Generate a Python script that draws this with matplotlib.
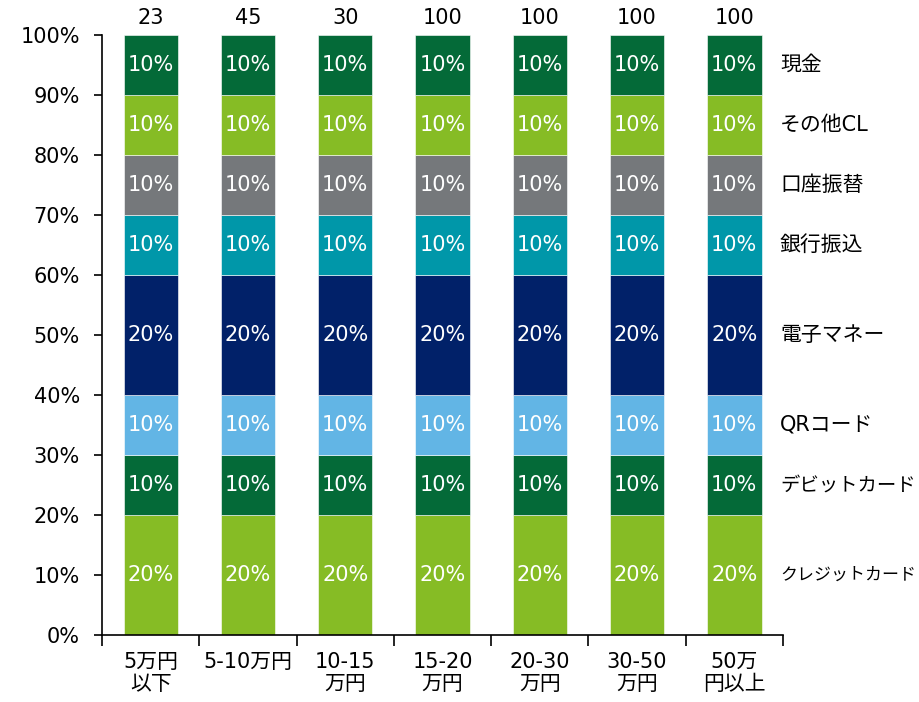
import numpy as np
import matplotlib
matplotlib.use('Agg')
import matplotlib.pyplot as plt
from matplotlib.ticker import PercentFormatter

plt.rcParams['font.family'] = ['DejaVu Sans', 'Noto Sans CJK JP']

categories = ['5万円\n以下', '5-10万円', '10-15\n万円', '15-20\n万円', '20-30\n万円', '30-50\n万円', '50万\n円以上']
counts = [23, 45, 30, 100, 100, 100, 100]

# bottom to top
series = ['クレジットカード', 'デビットカード', 'QRコード', '電子マネー', '銀行振込', '口座振替', 'その他CL', '現金']
credit = [20, 20, 20, 20, 20, 20, 20]
debit = [10, 10, 10, 10, 10, 10, 10]
qr = [10, 10, 10, 10, 10, 10, 10]
emoney = [20, 20, 20, 20, 20, 20, 20]
bank = [10, 10, 10, 10, 10, 10, 10]
direct = [10, 10, 10, 10, 10, 10, 10]
other_cl = [10, 10, 10, 10, 10, 10, 10]
cash = [10, 10, 10, 10, 10, 10, 10]
values = [credit, debit, qr, emoney, bank, direct, other_cl, cash]
colors = ['#86BC25', '#046A38', '#62B5E5', '#012169', '#0097A9', '#75787B', '#86BC25', '#046A38']

fig = plt.figure(figsize=(9.2, 7.02), dpi=100)
ax = fig.add_axes([0.111, 0.0954, 0.74, 0.855])
renderer = fig.canvas.get_renderer()

x = np.arange(len(categories))
bottom = np.zeros(len(categories))
for name, vals, c in zip(series, values, colors):
    vals = np.array(vals, dtype=float)
    ax.bar(x, vals, 0.56, bottom=bottom, color=c, edgecolor='white', linewidth=0.4)
    for xi, b, v in zip(x, bottom, vals):
        ax.text(xi, b + v / 2, f'{v:.0f}%', ha='center', va='center', color='white', fontsize=15)
    # series label to the right of last bar, shrunk to fit the margin
    t = ax.text(len(categories) - 0.53, bottom[-1] + vals[-1] / 2, name,
                ha='left', va='center', fontsize=15, clip_on=False)
    w = t.get_window_extent(renderer).width
    if w > 136:
        t.set_fontsize(15 * 136 / w)
    bottom += vals

for xi, n in zip(x, counts):
    ax.text(xi, 101.2, str(n), ha='center', va='bottom', fontsize=15)

ax.set_xlim(-0.5, len(categories) - 0.5)
ax.set_ylim(0, 100)
ax.yaxis.set_major_formatter(PercentFormatter(decimals=0))
ax.set_yticks(np.arange(0, 101, 10))
ax.tick_params(axis='y', labelsize=15, length=6, width=1.2, direction='out', pad=10)

ax.set_xticks(x)
ax.set_xticklabels(categories, fontsize=15, linespacing=1.15)
ax.set_xticks(np.arange(-0.5, len(categories), 1), minor=True)
ax.tick_params(axis='x', which='major', length=0, pad=12)
ax.tick_params(axis='x', which='minor', length=8, width=1.2, direction='out')

for s in ['top', 'right']:
    ax.spines[s].set_visible(False)
for s in ['left', 'bottom']:
    ax.spines[s].set_linewidth(1.2)

fig.savefig('out.png', dpi=100)
